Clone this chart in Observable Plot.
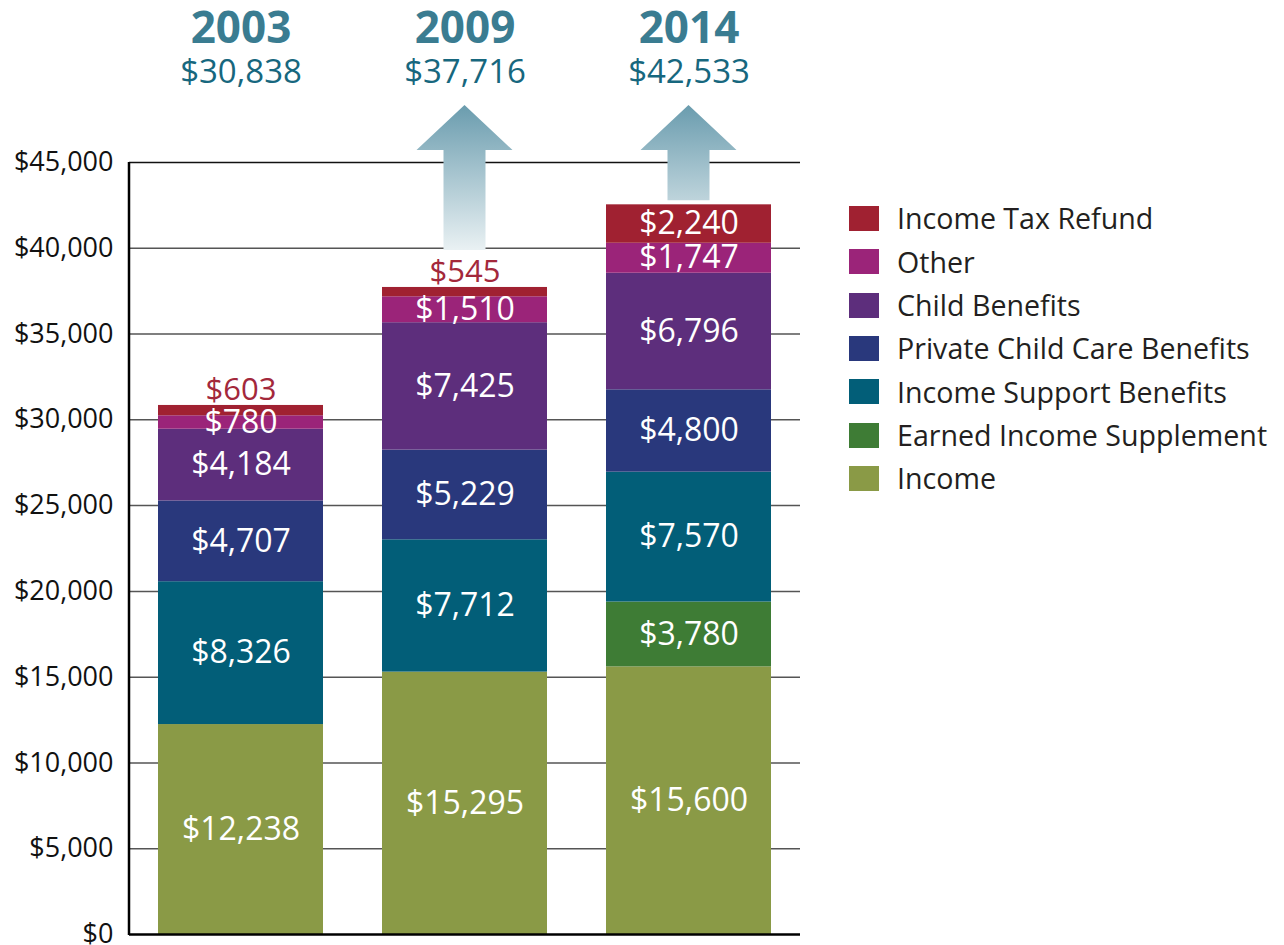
<!DOCTYPE html>
<html><head><meta charset="utf-8">
<script src="https://cdn.jsdelivr.net/npm/d3@7"></script>
<script src="https://cdn.jsdelivr.net/npm/@observablehq/plot@0.6"></script>
<style>
body{margin:0;background:#fff;font-family:"Open Sans",sans-serif;}
#wrap{position:relative;width:1284px;height:945px;}
#wrap svg{position:absolute;left:0;top:0;}
#legend{position:absolute;left:849px;top:197px;}
.item{display:flex;align-items:center;height:43.3px;}
.sw{width:30px;height:25px;margin-right:18px;flex:none;}
.lbl{font-size:28.6px;color:#231f20;white-space:nowrap;line-height:1;}
</style></head><body><div id="wrap"><div id="legend"></div></div>
<script>
const years = ["2003", "2009", "2014"];
const totals = [30838, 37716, 42533];
const categories = ["Income", "Earned Income Supplement", "Income Support Benefits", "Private Child Care Benefits", "Child Benefits", "Other", "Income Tax Refund"];
const colors = ["#8a9a46", "#3e7c35", "#025e78", "#29387c", "#5d2e7c", "#9b2479", "#a02131"];
const income = [12238, 15295, 15600];
const earnedIncomeSupplement = [0, 0, 3780];
const incomeSupport = [8326, 7712, 7570];
const privateChildCare = [4707, 5229, 4800];
const childBenefits = [4184, 7425, 6796];
const other = [780, 1510, 1747];
const incomeTaxRefund = [603, 545, 2240];
const yTicks = [0, 5000, 10000, 15000, 20000, 25000, 30000, 35000, 40000, 45000];
const arrowYears = ["2009", "2014"];

const series = [income, earnedIncomeSupplement, incomeSupport, privateChildCare, childBenefits, other, incomeTaxRefund];
const fmt = d => "$" + d3.format(",")(d);
const smallThreshold = 700;

const rows = [];
years.forEach((yr, i) => {
  let acc = 0;
  categories.forEach((c, k) => {
    const v = series[k][i];
    if (v > 0) rows.push({year: yr, cat: c, value: v, y0: acc, y1: acc + v});
    acc += v;
  });
});
const inside = rows.filter(d => d.value >= smallThreshold);
const outside = rows.filter(d => d.value < smallThreshold);
const headers = years.map((y, i) => ({year: y, total: totals[i]}));

function decor(...args) {
  const sc = args.find(a => a && typeof a === "object" && typeof a.x === "function" && typeof a.y === "function");
  const dim = args.find(a => a && typeof a === "object" && "marginLeft" in a && "width" in a);
  const x = sc.x, y = sc.y;
  const bw = typeof x.bandwidth === "function" ? x.bandwidth() : x.bandwidth;
  const g = d3.create("svg:g");
  const grad = g.append("defs").append("linearGradient").attr("id", "arrowGrad")
    .attr("gradientUnits", "userSpaceOnUse").attr("x1", 0).attr("x2", 0)
    .attr("y1", dim.marginTop - 57).attr("y2", dim.marginTop + 100);
  grad.append("stop").attr("offset", 0).attr("stop-color", "#6a9cae");
  grad.append("stop").attr("offset", 1).attr("stop-color", "#f4f8f9");
  arrowYears.forEach(yr => {
    const i = years.indexOf(yr);
    const cx = x(yr) + bw / 2;
    const hasOut = outside.some(d => d.year === yr);
    const bottom = y(totals[i]) - (hasOut ? 37 : 4);
    const tip = dim.marginTop - 57, base = dim.marginTop - 12;
    const hw = 48, sw = 21;
    const p = `M${cx},${tip}L${cx + hw},${base}L${cx + sw},${base}L${cx + sw},${bottom}L${cx - sw},${bottom}L${cx - sw},${base}L${cx - hw},${base}Z`;
    g.append("path").attr("d", p).attr("fill", "url(#arrowGrad)");
  });
  g.append("line").attr("x1", dim.marginLeft).attr("x2", dim.marginLeft)
    .attr("y1", y(45000)).attr("y2", y(0) + 1).attr("stroke", "#000").attr("stroke-width", 2.5);
  return g.node();
}

const chart = Plot.plot({
  width: 1284,
  height: 945,
  marginTop: 162,
  marginBottom: 11,
  marginLeft: 129,
  marginRight: 484,
  style: {fontFamily: "'Open Sans', sans-serif", fontSize: "27px", background: "transparent", color: "#111", overflow: "visible"},
  x: {domain: years, paddingInner: 0.262, paddingOuter: 0.124, axis: null},
  y: {domain: [0, 45000], ticks: yTicks, tickFormat: fmt, tickSize: 0, tickPadding: 16, label: null},
  color: {domain: categories, range: colors},
  marks: [
    Plot.ruleY(yTicks.filter(t => t > 0 && t < 45000), {stroke: "#555", strokeWidth: 1.5}),
    Plot.ruleY([45000], {stroke: "#111", strokeWidth: 1.5}),
    Plot.barY(rows, {x: "year", y1: "y0", y2: "y1", fill: "cat"}),
    Plot.ruleY([0], {stroke: "#000", strokeWidth: 2.5}),
    decor,
    Plot.text(inside, {x: "year", y: d => (d.y0 + d.y1) / 2, text: d => fmt(d.value), fill: "white", fontSize: 32, lineAnchor: "middle"}),
    Plot.text(outside, {x: "year", y: "y1", text: d => fmt(d.value), fill: "#a3283b", fontSize: 31, lineAnchor: "middle", dy: -15}),
    Plot.text(headers, {x: "year", text: "year", frameAnchor: "top", lineAnchor: "bottom", dy: -120, fontSize: 44, fontWeight: "bold", fill: "#3a7c91"}),
    Plot.text(headers, {x: "year", text: d => fmt(d.total), frameAnchor: "top", lineAnchor: "bottom", dy: -80, fontSize: 33, fill: "#17677e"})
  ]
});
document.getElementById("wrap").prepend(chart);

const legend = d3.select("#legend");
categories.slice().reverse().forEach(c => {
  const it = legend.append("div").attr("class", "item");
  it.append("div").attr("class", "sw").style("background", colors[categories.indexOf(c)]);
  it.append("div").attr("class", "lbl").text(c);
});
</script></body></html>
